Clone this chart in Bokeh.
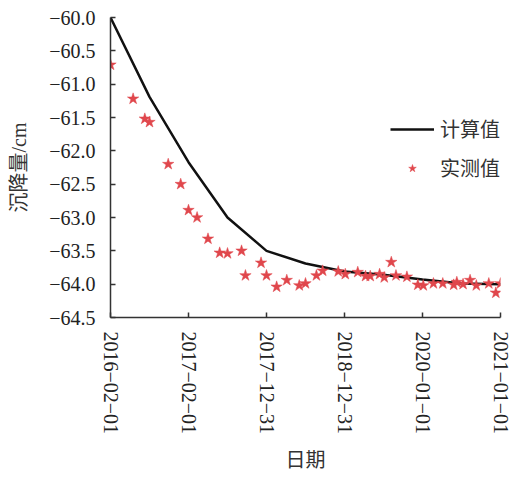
from bokeh.plotting import figure
from bokeh.models import Range1d, FixedTicker, Legend, LegendItem
from bokeh.embed import file_html
from bokeh.resources import INLINE

# ---- data ----
x_tick_labels = ["2016−02−01", "2017−02−01", "2017−12−31", "2018−12−31", "2020−01−01", "2021−01−01"]
y_ticks = [-60.0, -60.5, -61.0, -61.5, -62.0, -62.5, -63.0, -63.5, -64.0, -64.5]

calc_x = [0, 0.5, 1.0, 1.5, 2.0, 2.5, 3.0, 3.5, 4.0, 4.5, 5.0]
calc_y = [-60.0, -61.19, -62.17, -63.0, -63.5, -63.69, -63.81, -63.86, -63.93, -63.99, -64.0]

meas_x = [0.0, 0.29, 0.44, 0.50, 0.74, 0.90, 1.00, 1.11, 1.25, 1.40, 1.50, 1.68,
          1.73, 1.93, 2.00, 2.13, 2.26, 2.42, 2.50, 2.64, 2.72, 2.92, 3.01, 3.17,
          3.27, 3.33, 3.45, 3.51, 3.60, 3.66, 3.80, 3.94, 4.01, 4.14, 4.26, 4.40,
          4.44, 4.52, 4.61, 4.69, 4.85, 4.94, 5.00]
meas_y = [-60.71, -61.22, -61.52, -61.57, -62.20, -62.50, -62.89, -63.00, -63.32, -63.53, -63.54, -63.50,
          -63.87, -63.68, -63.87, -64.04, -63.94, -64.02, -63.99, -63.87, -63.80, -63.81, -63.85, -63.82,
          -63.88, -63.88, -63.85, -63.90, -63.67, -63.87, -63.89, -64.01, -64.02, -63.99, -63.99, -64.01,
          -63.97, -64.00, -63.94, -64.02, -63.99, -64.13, -63.99]

series_names = ["计算值", "实测值"]

p = figure(width=511, height=474, output_backend="svg", toolbar_location=None,
           x_range=Range1d(0, 5), y_range=Range1d(-64.5, -60.0),
           min_border_left=110, min_border_right=11, min_border_top=17, min_border_bottom=148)
p.outline_line_color = None
p.xgrid.visible = False
p.ygrid.visible = False
p.background_fill_color = "white"
p.border_fill_color = "white"

r_line = p.line(calc_x, calc_y, line_color="#111111", line_width=2.5)
r_star = p.scatter(meas_x, meas_y, marker="star", size=12, fill_color="#e0474c",
                   line_color="#e0474c", line_width=0.5)

serif = "Liberation Serif"
cjk = "Liberation Serif, Noto Sans CJK SC"

for ax in (p.xaxis[0], p.yaxis[0]):
    ax.axis_line_color = "#333333"
    ax.axis_line_width = 1.5
    ax.major_tick_line_color = "#333333"
    ax.major_tick_line_width = 1.5
    ax.major_tick_in = 5
    ax.major_tick_out = 0
    ax.minor_tick_line_color = None
    ax.major_label_text_font = serif
    ax.major_label_text_font_size = "20px"
    ax.major_label_text_color = "#222222"
    ax.axis_label_text_font = cjk
    ax.axis_label_text_font_size = "20px"
    ax.axis_label_text_font_style = "normal"
    ax.axis_label_text_color = "#333333"

p.xaxis[0].ticker = FixedTicker(ticks=list(range(len(x_tick_labels))))
p.xaxis[0].major_label_overrides = {i: s for i, s in enumerate(x_tick_labels)}
p.xaxis[0].major_label_orientation = "vertical"
p.xaxis[0].major_label_standoff = 14
p.xaxis[0].axis_label = "日期"
p.xaxis[0].axis_label_standoff = 12

p.yaxis[0].ticker = FixedTicker(ticks=y_ticks)
p.yaxis[0].major_label_overrides = {v: ("−%.1f" % abs(v)) for v in y_ticks}
p.yaxis[0].major_label_standoff = 15
p.yaxis[0].axis_label = "沉降量/cm"
p.yaxis[0].axis_label_standoff = 16

legend = Legend(items=[LegendItem(label=series_names[0], renderers=[r_line]),
                       LegendItem(label=series_names[1], renderers=[r_star])],
                location=(280, 135), border_line_color=None, background_fill_alpha=0,
                padding=0, margin=0, spacing=10, glyph_width=44, glyph_height=20,
                label_height=20, label_standoff=6,
                label_text_font=cjk, label_text_font_size="20px", label_text_color="#333333")
p.add_layout(legend, "center")

open("out.html", "w").write(file_html(p, INLINE))
